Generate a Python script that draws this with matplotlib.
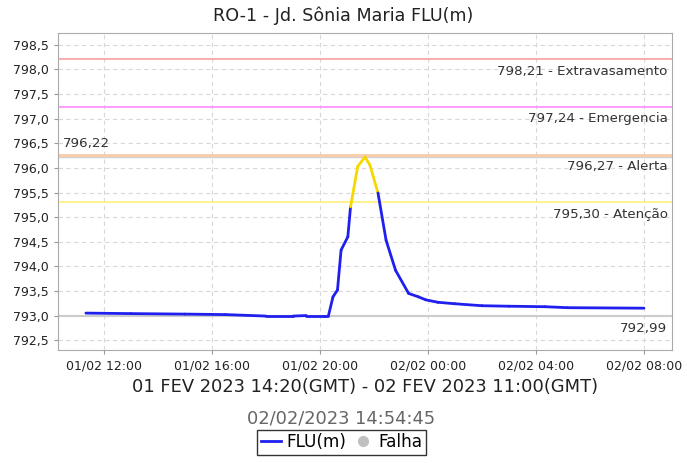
import numpy as np
import pandas as pd
import matplotlib
matplotlib.use("Agg")
import matplotlib.pyplot as plt
import matplotlib.dates as mdates
from matplotlib.collections import LineCollection
from matplotlib.lines import Line2D

# leituras (hora local)
times = ["2023-02-01 11:20", "2023-02-01 13:00", "2023-02-01 15:00", "2023-02-01 16:30",
         "2023-02-01 18:00", "2023-02-01 19:00", "2023-02-01 19:30", "2023-02-01 20:10",
         "2023-02-01 20:19", "2023-02-01 20:29", "2023-02-01 20:39", "2023-02-01 20:47",
         "2023-02-01 21:02", "2023-02-01 21:08", "2023-02-01 21:24", "2023-02-01 21:40",
         "2023-02-01 21:51", "2023-02-01 22:09", "2023-02-01 22:27", "2023-02-01 22:48",
         "2023-02-01 23:17", "2023-02-01 23:39", "2023-02-01 23:55", "2023-02-02 00:22",
         "2023-02-02 01:00", "2023-02-02 02:00", "2023-02-02 03:00", "2023-02-02 04:20",
         "2023-02-02 05:10", "2023-02-02 08:00"]
nivel = [793.05, 793.04, 793.03, 793.02,
         792.99, 792.99, 793.00, 793.00,
         793.00, 793.38, 793.52, 794.33,
         794.60, 795.21, 796.03, 796.22,
         796.06, 795.49, 794.53, 793.92,
         793.45, 793.38, 793.32, 793.27,
         793.24, 793.20, 793.19, 793.18,
         793.16, 793.15]

# cotas de referencia
cotas = [798.21, 797.24, 796.27, 795.30]
cotas_nomes = ["Extravasamento", "Emergencia", "Alerta", "Atenção"]
cotas_cores = ["#f7a0a0", "#ff8cff", "#f9cca8", "#fff07a"]
nivel_max = 796.22
nivel_min = 792.99

def fmt(v):
    return ("%.2f" % v).replace(".", ",")

t = mdates.date2num(pd.to_datetime(times))
y = np.array(nivel)

fig = plt.figure(figsize=(6.87, 4.63), dpi=100)
ax = fig.add_axes([0.0844, 0.244, 0.8936, 0.6847])

ax.grid(True, color="#d8d8d8", linestyle=(0, (4, 3)), linewidth=0.8)
ax.set_axisbelow(True)

# linhas de cota
for c, nome, cor in zip(cotas, cotas_nomes, cotas_cores):
    lw = 2.0 if nome == "Alerta" else 1.2
    ax.axhline(c, color=cor, linewidth=lw, zorder=2)
    ax.annotate(fmt(c) + " - " + nome, xy=(0.993, c), xycoords=("axes fraction", "data"),
                xytext=(0, -4), textcoords="offset points", ha="right", va="top",
                fontsize=9.6, color="#333333")

ax.axhline(nivel_max, color="#d0d0d0", linewidth=1.0, zorder=1)
ax.annotate(fmt(nivel_max), xy=(0.008, nivel_max), xycoords=("axes fraction", "data"),
            xytext=(0, 5), textcoords="offset points", ha="left", va="bottom",
            fontsize=9.6, color="#333333")
ax.axhline(nivel_min, color="#cccccc", linewidth=1.5, zorder=1)
ax.annotate(fmt(nivel_min), xy=(0.993, nivel_min), xycoords=("axes fraction", "data"),
            xytext=(0, -4), textcoords="offset points", ha="right", va="top",
            fontsize=9.6, color="#333333")

# serie, amarela acima da cota de atencao
pts = np.column_stack([t, y])
segs = np.stack([pts[:-1], pts[1:]], axis=1)
cores = ["#f5d800" if v > cotas[3] else "#1f1fee" for v in y[1:]]
lc = LineCollection(segs, colors=cores, linewidths=2.0, zorder=3, capstyle="round")
ax.add_collection(lc)

pad = 0.05 * (t[-1] - t[0])
ax.set_xlim(t[0] - pad, t[-1] + pad)
ax.set_ylim(792.30, 798.74)

ax.set_yticks(np.arange(792.5, 798.6, 0.5))
ax.yaxis.set_major_formatter(matplotlib.ticker.FuncFormatter(lambda v, p: ("%.1f" % v).replace(".", ",")))
ax.xaxis.set_major_locator(mdates.HourLocator(byhour=[0, 4, 8, 12, 16, 20]))
ax.xaxis.set_major_formatter(mdates.DateFormatter("%d/%m %H:%M"))
ax.tick_params(labelsize=9, colors="#999999", labelcolor="#222222", length=3, width=0.8)

for s in ax.spines.values():
    s.set_color("#aaaaaa")

fig.text(0.5, 0.967, "RO-1 - Jd. Sônia Maria FLU(m)", ha="center", va="center",
         fontsize=12.6, color="#222222")
# rotulo do eixo x centrado no eixo
ax.text(0.5, -0.118, "01 FEV 2023 14:20(GMT) - 02 FEV 2023 11:00(GMT)", transform=ax.transAxes,
        ha="center", va="center", fontsize=12.9, color="#222222")
fig.text(0.497, 0.097, "02/02/2023 14:54:45", ha="center", va="center",
         fontsize=12.9, color="#666666")

handles = [Line2D([], [], color="#1f1fee", linewidth=2),
           Line2D([], [], color="#c0c0c0", marker="o", linestyle="none", markersize=7)]
leg = fig.legend(handles, ["FLU(m)", "Falha"], loc="center", bbox_to_anchor=(0.497, 0.045),
                 ncol=2, frameon=True, fancybox=False, fontsize=12.2, handlelength=1.2,
                 handletextpad=0.3, columnspacing=0.4, borderpad=0.2, borderaxespad=0)
leg.get_frame().set_edgecolor("#000000")
leg.get_frame().set_linewidth(1.0)

fig.savefig("out.png", dpi=100)
